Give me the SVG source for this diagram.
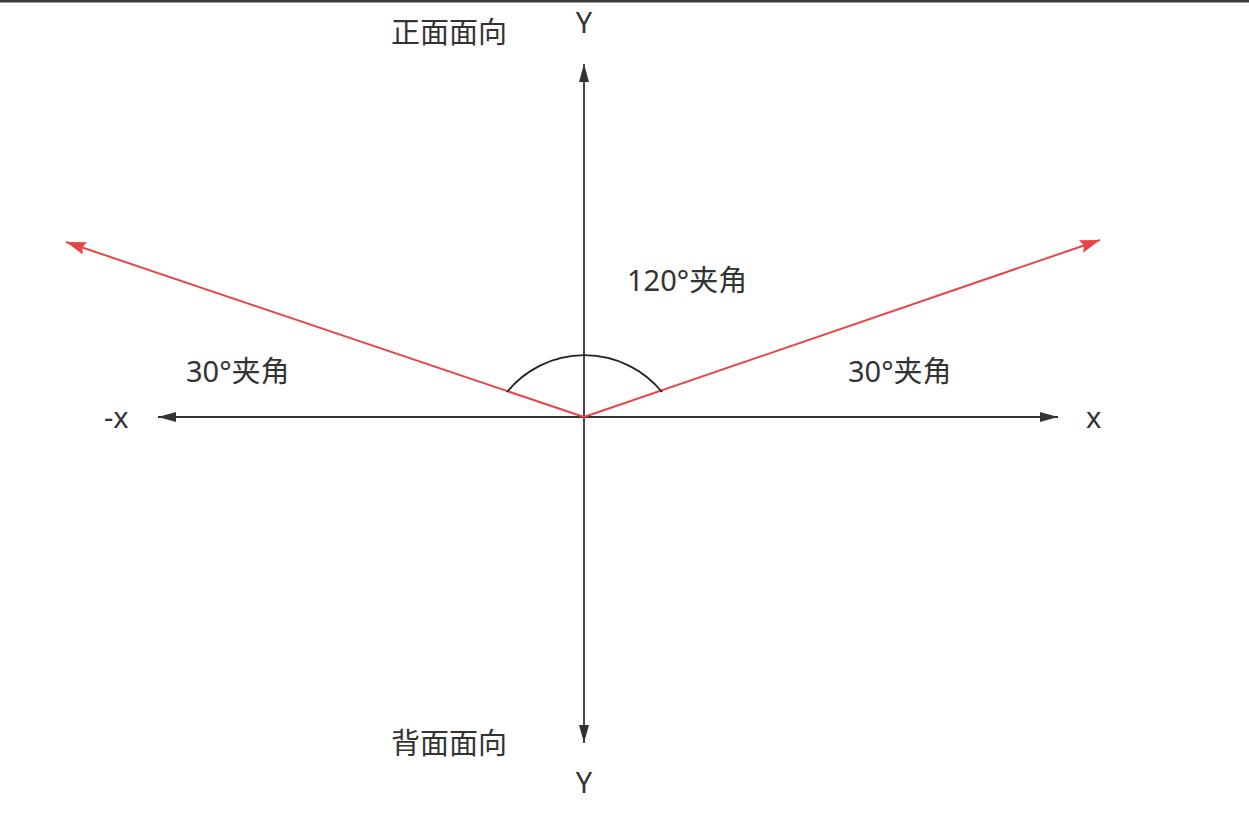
<svg xmlns="http://www.w3.org/2000/svg" width="1249" height="821" viewBox="0 0 1249 821">
<style>
text{font-family:"Noto Sans","Noto Sans CJK SC",sans-serif;font-size:29px;fill:#333}
.ax{stroke:#333;stroke-width:1.8;fill:none}
.red{stroke:#e84545;stroke-width:2;fill:none}
</style>
<defs>
<marker id="ab" viewBox="0 0 18 10" refX="18" refY="5" markerWidth="18" markerHeight="10" markerUnits="userSpaceOnUse" orient="auto"><path d="M0,0 L18,5 L0,10 Z" fill="#333"/></marker>
<marker id="ar" viewBox="0 0 20 13" refX="20" refY="6.5" markerWidth="20" markerHeight="13" markerUnits="userSpaceOnUse" orient="auto"><path d="M0,0 L20,6.5 L0,13 L3,6.5 Z" fill="#e84545"/></marker>
</defs>
<rect x="0" y="0" width="1249" height="821" fill="#fff"/>
<line x1="0" y1="1.2" x2="1249" y2="1.2" stroke="#3a3a3a" stroke-width="2.8"/>
<g id="connectors">
<line class="ax" x1="584" y1="417" x2="584" y2="64" marker-end="url(#ab)"/>
<line class="ax" x1="584" y1="417" x2="584" y2="743" marker-end="url(#ab)"/>
<line class="ax" x1="584" y1="417" x2="1058" y2="417" marker-end="url(#ab)"/>
<line class="ax" x1="584" y1="417" x2="158" y2="417" marker-end="url(#ab)"/>
<line class="red" x1="584" y1="417" x2="66" y2="242" marker-end="url(#ar)"/>
<line class="red" x1="584" y1="417" x2="1100" y2="240" marker-end="url(#ar)"/>
<path id="arc" d="M507,392 A100,100 0 0 1 662,392" stroke="#222" stroke-width="1.8" fill="none"/>
</g>
<g id="labels">
<text x="584" y="33" text-anchor="middle">Y</text>
<text x="584" y="793" text-anchor="middle">Y</text>
<text x="391" y="43">正面面向</text>
<text x="391" y="754">背面面向</text>
<text x="627" y="291">120°夹角</text>
<text x="186" y="382">30°夹角</text>
<text x="848" y="382">30°夹角</text>
<text x="104" y="428">-x</text>
<text x="1086" y="428">x</text>
</g>
</svg>
